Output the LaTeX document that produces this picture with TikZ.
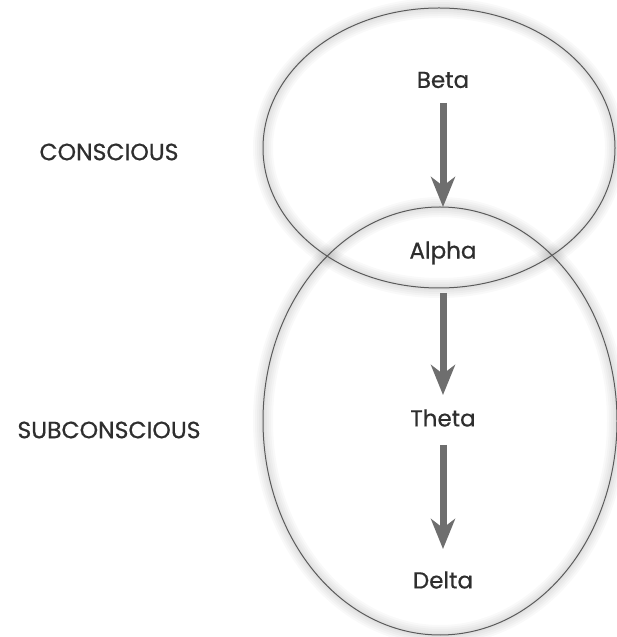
\documentclass[tikz,border=0pt]{standalone}
\usepackage{fontspec}
\setmainfont{Poppins}
\newfontfamily\lblfont{Poppins}[FakeBold=0.6]
\usetikzlibrary{arrows.meta}
\definecolor{txt}{HTML}{2E2E2E}
\definecolor{ring}{HTML}{5A5A5A}
\definecolor{arr}{HTML}{6E6E6E}
\tikzset{
  lbl/.style={font=\lblfont\fontsize{23}{26}\selectfont, text=txt, inner sep=0pt},
  side/.style={font=\lblfont\fontsize{23.5}{26}\selectfont, text=txt, inner sep=0pt},
  ringline/.style={draw=ring, line width=1pt},
  halo/.style={draw=black, line width=#1, opacity=0.025},
  flow/.style={draw=arr, line width=7pt, -{Stealth[length=30pt,width=24pt,inset=9pt]}}
}
\begin{document}
\begin{tikzpicture}[x=1pt,y=1pt]
\useasboundingbox (0,0) rectangle (616,637);
\fill[white] (0,0) rectangle (616,637);
% halos
\foreach \w in {4,8,12,16,20}{
  \draw[halo=\w pt] (439,489) ellipse [x radius=176, y radius=140];
  \draw[halo=\w pt] (440,216) ellipse [x radius=177, y radius=214];
}
\draw[ringline] (439,489) ellipse [x radius=176, y radius=140];
\draw[ringline] (440,216) ellipse [x radius=177, y radius=214];
% labels
\node[lbl] (beta) at (443,557) {Beta};
\node[lbl] (alpha) at (443,384) {Alpha};
\node[lbl] (theta) at (443,219) {Theta};
\node[lbl] (delta) at (443,57) {Delta};
\node[side] (con) at (109,485) {CONSCIOUS};
\node[side] (sub) at (109,207) {SUBCONSCIOUS};
% arrows
\draw[flow, shorten <=23pt, shorten >=46pt] (beta.center) -- (alpha.center);
\draw[flow, shorten <=40pt, shorten >=23pt] (alpha.center) -- (theta.center);
\draw[flow, shorten <=27pt, shorten >=31pt] (theta.center) -- (delta.center);
\end{tikzpicture}
\end{document}
